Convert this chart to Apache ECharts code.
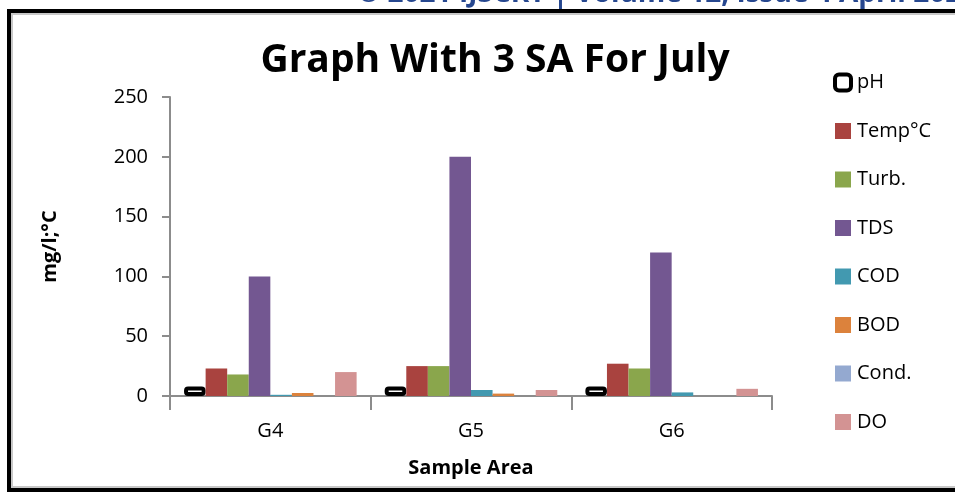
<!DOCTYPE html>
<html>
<head>
<meta charset="utf-8">
<script src="https://cdn.jsdelivr.net/npm/echarts@6/dist/echarts.min.js"></script>
<style>
  html, body { margin: 0; padding: 0; background: #fff; }
  #chart { width: 955px; height: 495px; }
</style>
</head>
<body>
<div id="chart"></div>
<script>
// Sample areas on the category axis
const categories = ['G4', 'G5', 'G6'];

// Measured parameters per sample area
const pH    = [8, 8, 8];
const temp  = [23, 25, 27];
const turb  = [18, 25, 23];
const tds   = [100, 200, 120];
const cod   = [1, 5, 3];
const bod   = [2.5, 2, 0];
const cond  = [0, 0, 0];
const dO    = [20, 5, 6];

const yTicks = [0, 50, 100, 150, 200, 250];

const FONT = '"Open Sans", sans-serif';

const seriesDefs = [
  { name: 'pH',     data: pH,   color: '#ffffff', border: true },
  { name: 'Temp°C', data: temp, color: '#A9433F' },
  { name: 'Turb.',  data: turb, color: '#8AA64C' },
  { name: 'TDS',    data: tds,  color: '#735791' },
  { name: 'COD',    data: cod,  color: '#4299B0' },
  { name: 'BOD',    data: bod,  color: '#DC823C' },
  { name: 'Cond.',  data: cond, color: '#94A9D0' },
  { name: 'DO',     data: dO,   color: '#D39393' }
];

const chart = echarts.init(document.getElementById('chart'), null, { renderer: 'canvas' });

chart.setOption({
  animation: false,
  backgroundColor: '#ffffff',
  title: {
    text: 'Graph With 3 SA For July',
    left: 490,
    top: 36,
    textAlign: 'center',
    textStyle: { fontFamily: FONT, fontSize: 39, fontWeight: 'bold', color: '#000' }
  },
  legend: {
    orient: 'vertical',
    left: 833,
    top: 72,
    padding: 0,
    itemWidth: 16,
    itemHeight: 16,
    itemGap: 27.5,
    icon: 'rect',
    textStyle: { fontFamily: FONT, fontSize: 20, color: '#000', lineHeight: 21, padding: [0, 0, 0, 1] },
    data: seriesDefs.map(s => s.border
      ? { name: s.name, icon: 'roundRect', itemStyle: { color: '#fff', borderColor: '#000', borderWidth: 4 } }
      : { name: s.name })
  },
  grid: { left: 170, right: 183, top: 97, bottom: 99, containLabel: false },
  xAxis: {
    type: 'category',
    data: categories,
    name: 'Sample Area',
    nameLocation: 'middle',
    nameGap: 62,
    nameTextStyle: { fontFamily: FONT, fontSize: 20, fontWeight: 'bold', color: '#000' },
    axisLine: { lineStyle: { color: '#8c8c8c', width: 2 } },
    axisTick: { show: true, length: 14, lineStyle: { color: '#8c8c8c', width: 2 } },
    axisLabel: { fontFamily: FONT, fontSize: 20, color: '#000', margin: 25 }
  },
  yAxis: {
    type: 'value',
    min: yTicks[0],
    max: yTicks[yTicks.length - 1],
    interval: 50,
    name: 'mg/l;°C',
    nameLocation: 'middle',
    nameGap: 110,
    nameRotate: 90,
    nameTextStyle: { fontFamily: FONT, fontSize: 20, fontWeight: 'bold', color: '#000' },
    axisLine: { show: true, lineStyle: { color: '#8c8c8c', width: 2 } },
    axisTick: { show: true, length: 8, lineStyle: { color: '#8c8c8c', width: 2 } },
    splitLine: { show: false },
    axisLabel: { fontFamily: FONT, fontSize: 20, color: '#000', margin: 22 }
  },
  series: seriesDefs.map(s => ({
    name: s.name,
    type: 'bar',
    data: s.data,
    barGap: '0%',
    barCategoryGap: '14%',
    itemStyle: s.border
      ? { color: '#ffffff', borderColor: '#000000', borderWidth: 4, borderRadius: 2 }
      : { color: s.color }
  })),
  graphic: [
    {
      type: 'text',
      silent: true,
      style: {
        x: 357,
        y: 8,
        verticalAlign: 'bottom',
        text: '© 2021 IJSCRT | Volume 12, Issue 4 April 2021',
        fill: '#26478f',
        font: 'bold 28px ' + FONT
      }
    },
    {
      type: 'rect',
      shape: { x: 11, y: 13, width: 970, height: 475 },
      style: { fill: 'none', stroke: '#c8c8c8', lineWidth: 4 },
      silent: true
    },
    {
      type: 'rect',
      shape: { x: 9, y: 11, width: 975, height: 479 },
      style: { fill: 'none', stroke: '#000', lineWidth: 4 },
      silent: true
    }
  ]
});
</script>
</body>
</html>
